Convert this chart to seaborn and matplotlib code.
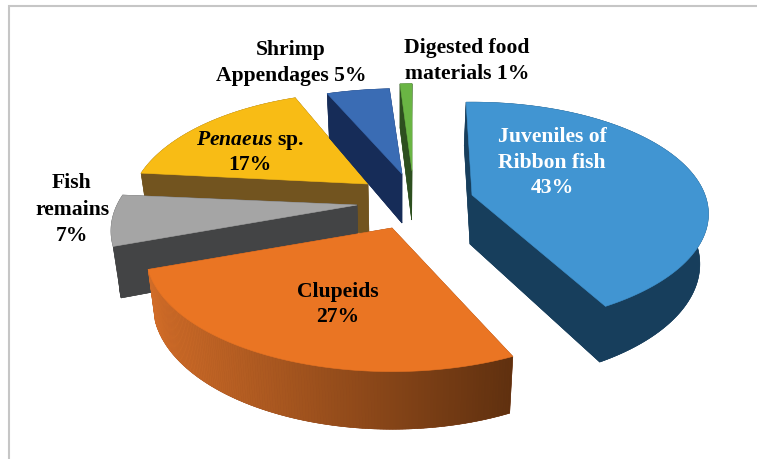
import numpy as np
import matplotlib
matplotlib.use("Agg")
import matplotlib.pyplot as plt
import seaborn as sns
from matplotlib.colors import to_rgb

categories = ["Juveniles of Ribbon fish", "Clupeids", "Fish remains", "Penaeus sp.",
              "Shrimp Appendages", "Digested food materials"]
shares = [43, 27, 7, 17, 5, 1]
top_colors = ["#4195d2", "#ea7523", "#a5a5a5", "#f8bc15", "#3a6cb4", "#6ab544"]
wall_colors = ["#173e5c", "#8a4520", "#434445", "#72541f", "#162c58", "#2d4f1f"]

# Layout of the exploded slices: where each slice's tip lands on the canvas
tips = {0: (472, 196), 1: (392, 229), 2: (357, 206), 3: (368, 185), 4: (402, 175), 5: (412, 172)}
# View correction per slice: start/end angle nudge (degrees), x and y stretch, perspective
view = {0: (-1.7, -4.0, 1.0, 0.97, 0.17), 1: (1.5, -2.0, 1.03, 1.0, 0.22), 2: (-2.0, -2.0, 1.03, 1.0, 0.22),
        3: (-1.5, -0.5, 1.0, 1.0, 0.22), 4: (0.0, 0.0, 1.05, 0.93, 0.22), 5: (0.0, 0.0, 1.0, 0.95, 0.22)}
draw_order = [3, 4, 5, 0, 2, 1]
RX, RY = 233.0, 112.0
DEPTH, DEPTH_SLOPE, SHRINK = 49.0, 0.06, 0.972

sns.set_theme(style="white")
plt.rcParams["font.family"] = ["Liberation Serif", "DejaVu Serif"]
plt.rcParams["mathtext.fontset"] = "custom"
plt.rcParams["mathtext.bfit"] = "Liberation Serif:italic:bold"
plt.rcParams["mathtext.rm"] = "Liberation Serif:bold"

fig = plt.figure(figsize=(7.57, 4.60), dpi=100)
ax = fig.add_axes([0, 0, 1, 1])
ax.set_xlim(0, 757)
ax.set_ylim(460, 0)
ax.axis("off")

edges = np.concatenate([[0], np.cumsum(shares)]) / np.sum(shares) * 2 * np.pi


def project(theta, tip, sx, sy, k):
    u, v = np.sin(theta), np.cos(theta)
    w = 1 + k * v
    return tip[0] + sx * RX * u / w, tip[1] - sy * RY * v / w


def lower(x, y, tip):
    cx = 400.0
    return cx + (x - cx) * SHRINK, y + DEPTH + DEPTH_SLOPE * (y - tip[1])


def fill(xs, ys, color):
    ax.fill(xs, ys, color=color, lw=0.4, ec=color, zorder=zo)


for zo, i in enumerate(draw_order, start=2):
    tip = tips[i]
    d0, d1, sx, sy, k = view[i]
    th = np.linspace(edges[i] + np.radians(d0), edges[i + 1] + np.radians(d1), 160)
    rx, ry = project(th, tip, sx, sy, k)
    tx = np.concatenate([[tip[0]], rx])
    ty = np.concatenate([[tip[1]], ry])
    bx, by = lower(tx, ty, tip)
    # bottom face and the two cut walls
    fill(bx, by, wall_colors[i])
    for a, b in ((0, 1), (0, len(tx) - 1)):
        fill([tx[a], tx[b], bx[b], bx[a]], [ty[a], ty[b], by[b], by[a]], wall_colors[i])
    # outer wall
    if categories[i] == "Clupeids":
        c0, c1 = np.array(to_rgb("#d06c28")), np.array(to_rgb("#5f300f"))
        for j in range(1, len(tx) - 1):
            f = np.clip((tx[j] - 150) / 365, 0, 1)
            col = tuple(c0 + (c1 - c0) * f)
            fill([tx[j], tx[j + 1], bx[j + 1], bx[j]], [ty[j], ty[j + 1], by[j + 1], by[j]], col)
    else:
        fill(np.r_[tx[1:], bx[:0:-1]], np.r_[ty[1:], by[:0:-1]], wall_colors[i])
    fill(tx, ty, top_colors[i])

# chart frame (top and left edges only)
ax.plot([9, 9, 757], [460, 7, 7], color="#c6c6c6", lw=1.5, zorder=1, solid_joinstyle="miter")

FS = 15.6
labels = [
    ("Juveniles of", 552, 137, "white"), ("Ribbon fish", 552, 163, "white"), ("43%", 552, 188, "white"),
    ("Clupeids", 338, 292, "black"), ("27%", 338, 317, "black"),
    ("Fish", 72, 183, "black"), ("remains", 72, 210, "black"), ("7%", 72, 236, "black"),
    (r"$\mathbfit{Penaeus}$ sp.", 250, 141, "black"), ("17%", 250, 165, "black"),
    ("Shrimp", 291, 50, "black"), ("Appendages 5%", 291, 76, "black"),
    ("Digested food", 467, 48, "black"), ("materials 1%", 467, 74, "black"),
]
for s, x, y, c in labels:
    ax.text(x, y, s, ha="center", va="center", color=c, fontsize=FS, fontweight="bold", zorder=20)

fig.savefig("out.png", dpi=100)
